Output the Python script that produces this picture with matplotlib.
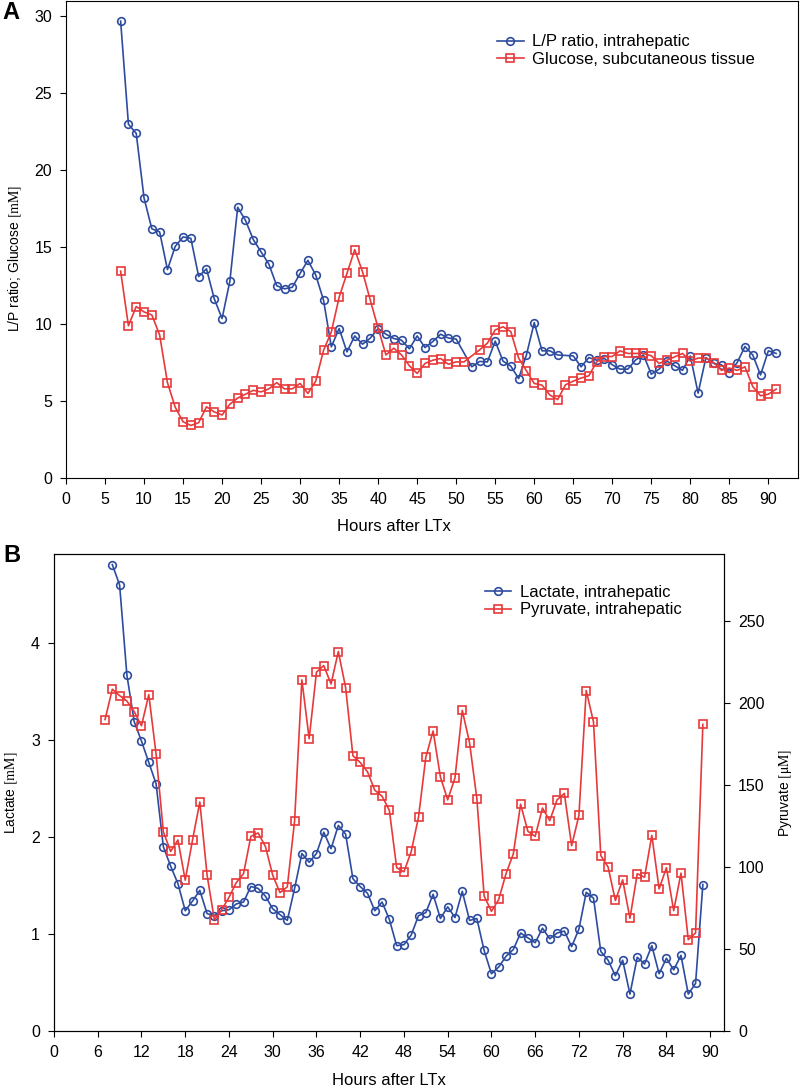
import numpy as np
import matplotlib
matplotlib.use("Agg")
import matplotlib.pyplot as plt

plt.rcParams['font.family'] = ['Liberation Sans', 'DejaVu Sans']
plt.rcParams['mathtext.fontset'] = 'stix'

# panel A: L/P ratio and glucose
lp_hours = list(range(7, 51)) + list(range(52, 64)) + list(range(65, 92))
lp_ratio = [29.7, 23.0, 22.4, 18.2, 16.2, 16.0, 13.55, 15.06, 15.67, 15.58,
            13.1, 13.6, 11.65, 10.37, 12.8, 17.6, 16.75, 15.5, 14.7, 13.9,
            12.5, 12.3, 12.4, 13.3, 14.15, 13.2, 11.56, 8.53, 9.72, 8.2,
            9.24, 8.7, 9.1, 9.72, 9.35, 9.07, 8.96, 8.4, 9.24, 8.48,
            8.87, 9.35, 9.1, 9.03,
            7.23, 7.58, 7.55, 8.9, 7.6, 7.27, 6.47, 8.0, 10.1, 8.27, 8.27, 8.0,
            7.94, 7.23, 7.83, 7.66, 7.77, 7.36, 7.08, 7.08, 7.68, 8.0,
            6.75, 7.08, 7.6, 7.3, 7.0, 7.94, 5.52, 7.83, 7.45, 7.36,
            6.86, 7.5, 8.55, 8.0, 6.7, 8.27, 8.1]

glu_hours = list(range(7, 52)) + list(range(53, 92))
glucose = [13.45, 9.9, 11.15, 10.8, 10.6, 9.3, 6.2, 4.6, 3.66, 3.42,
           3.6, 4.63, 4.3, 4.1, 4.8, 5.2, 5.45, 5.7, 5.6, 5.8,
           6.2, 5.8, 5.8, 6.15, 5.5, 6.3, 8.3, 9.5, 11.75, 13.3,
           14.85, 13.4, 11.55, 9.74, 8.0, 8.44, 8.0, 7.3, 6.8, 7.45,
           7.66, 7.77, 7.4, 7.55, 7.55,
           8.33, 8.77, 9.63, 9.83, 9.52, 7.8, 6.97, 6.15, 6.04, 5.4,
           5.1, 6.06, 6.3, 6.5, 6.65, 7.55, 7.9, 7.9, 8.27, 8.1,
           8.1, 8.1, 7.95, 7.45, 7.66, 7.88, 8.1, 7.6, 7.8, 7.8,
           7.5, 7.0, 7.15, 7.0, 7.23, 5.95, 5.35, 5.45, 5.78]

# panel B: lactate and pyruvate
lac_hours = list(range(8, 90))
lactate = [4.81, 4.6, 3.67, 3.19, 2.99, 2.77, 2.55, 1.9, 1.7, 1.52,
           1.24, 1.34, 1.45, 1.21, 1.19, 1.24, 1.25, 1.31, 1.33, 1.49,
           1.47, 1.39, 1.26, 1.2, 1.14, 1.47, 1.83, 1.74, 1.83, 2.05,
           1.88, 2.12, 2.03, 1.57, 1.49, 1.42, 1.24, 1.33, 1.15, 0.88,
           0.89, 0.99, 1.19, 1.22, 1.41, 1.16, 1.28, 1.17, 1.44, 1.14,
           1.16, 0.83, 0.59, 0.66, 0.77, 0.84, 1.01, 0.96, 0.91, 1.06,
           0.95, 1.01, 1.03, 0.87, 1.05, 1.43, 1.37, 0.82, 0.73, 0.57,
           0.73, 0.38, 0.76, 0.69, 0.88, 0.59, 0.75, 0.63, 0.78, 0.38,
           0.49, 1.51]

pyr_hours = list(range(7, 90))
pyruvate = [190, 208.5, 204.6, 201.3, 194.8, 186.2, 205.2, 169, 121.5, 109.5,
            116.5, 92, 116.5, 139.7, 95, 67.7, 74, 81.5, 90.5, 96,
            118.7, 120.8, 112.5, 95, 84.4, 87.9, 128, 214.2, 178.3, 218.9,
            222.9, 211.7, 231.5, 209.5, 167.9, 163.8, 158.1, 146.9, 143.2, 134.6,
            99.6, 97.1, 109.5, 130.5, 167, 183, 155, 141, 154.4, 195.6,
            175.8, 141.8, 82.3, 73, 80.2, 96, 108, 138.3, 121.8, 118.7,
            136, 128.3, 141, 144.9, 113, 131.5, 207.7, 188.5, 107, 100,
            79.6, 92.2, 68.7, 95.9, 93.8, 119.3, 86.7, 99.6, 73.4, 96.3,
            55.7, 59.8, 187]

blue = '#2d4c9f'
red = '#e8393a'
mk = dict(markersize=5.5, markerfacecolor='none', markeredgewidth=1.2, linewidth=1.2)
leg = dict(loc='upper left', frameon=False, fontsize=12, handlelength=1.6,
           handletextpad=0.5, labelspacing=0.15, borderaxespad=0, borderpad=0)

fig = plt.figure(figsize=(8, 10.89), dpi=100)

# ---- A ----
ax1 = fig.add_axes([0.0825, 0.561, 0.915, 0.438])
ax1.plot(lp_hours, lp_ratio, '-o', color=blue, label='L/P ratio, intrahepatic', **mk)
ax1.plot(glu_hours, glucose, '-s', color=red, label='Glucose, subcutaneous tissue', **mk)
ax1.set_xlim(0, 93.8)
ax1.set_ylim(0, 31)
ax1.set_xticks(range(0, 91, 5))
ax1.set_yticks(range(0, 31, 5))
ax1.tick_params(direction='out', length=4, labelsize=11.5, pad=6, top=False, right=False)
ax1.set_xlabel('Hours after LTx', fontsize=12)
ax1.xaxis.set_label_coords(0.448, -0.085)
ax1.set_ylabel(r'L/P ratio; Glucose $[\mathrm{mM}]$', fontsize=10)
ax1.yaxis.set_label_coords(-0.057, 0.46)
ax1.legend(bbox_to_anchor=(0.589, 0.93), **leg)
fig.text(0.003, 0.999, 'A', fontsize=17, fontweight='bold', va='top', ha='left')

# ---- B ----
ax2 = fig.add_axes([0.0675, 0.0533, 0.8375, 0.438])
ax3 = ax2.twinx()
l1, = ax2.plot(lac_hours, lactate, '-o', color=blue, label='Lactate, intrahepatic', **mk)
l2, = ax3.plot(pyr_hours, pyruvate, '-s', color=red, label='Pyruvate, intrahepatic', **mk)
ax2.set_xlim(0, 91.9)
ax2.set_ylim(0, 4.92)
ax3.set_ylim(0, 291)
ax2.set_xticks(range(0, 91, 6))
ax2.set_yticks(range(0, 5))
ax3.set_yticks(range(0, 251, 50))
ax2.tick_params(direction='out', length=4, labelsize=11.5, pad=6, top=False)
ax3.tick_params(direction='out', length=4, labelsize=11.5, pad=6)
ax2.set_xlabel('Hours after LTx', fontsize=12)
ax2.xaxis.set_label_coords(0.5, -0.088)
ax2.set_ylabel(r'Lactate $[\mathrm{mM}]$', fontsize=10)
ax2.yaxis.set_label_coords(-0.05, 0.5)
ax3.set_ylabel(r'Pyruvate $[\mathrm{\mu M}]$', fontsize=10, rotation=90)
ax3.yaxis.set_label_coords(1.079, 0.5)
ax3.legend([l1, l2], [l1.get_label(), l2.get_label()],
           bbox_to_anchor=(0.643, 0.935), **leg)
fig.text(0.004, 0.5, 'B', fontsize=17, fontweight='bold', va='top', ha='left')

fig.savefig('out.png', dpi=100)
